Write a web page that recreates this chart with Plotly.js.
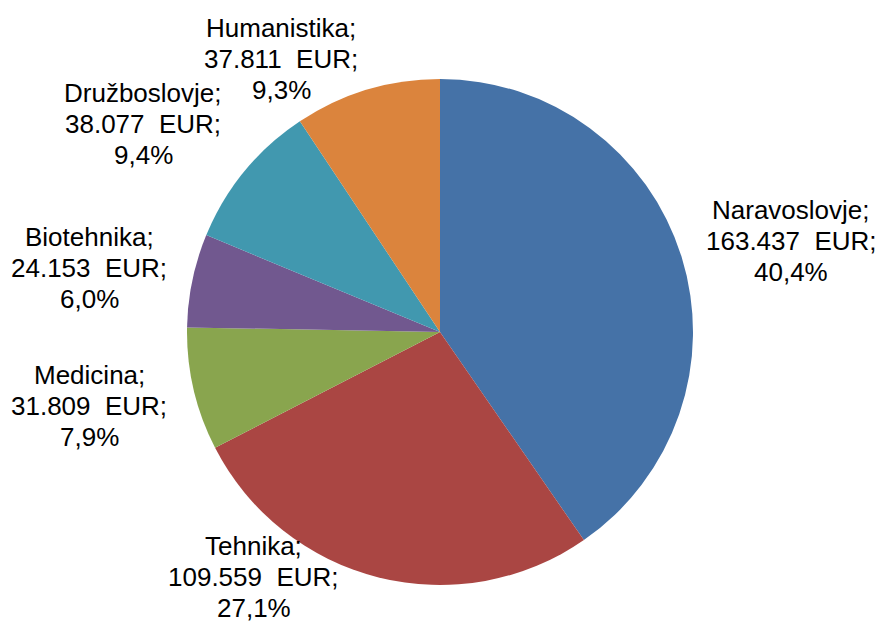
<!DOCTYPE html>
<html>
<head>
<meta charset="utf-8">
<script src="https://cdn.plot.ly/plotly-3.0.1.min.js"></script>
<style>html,body{margin:0;padding:0;background:#fff;}#chart{width:883px;height:621px;}</style>
</head>
<body>
<div id="chart"></div>
<script>
// Data
var categories = ["Naravoslovje", "Tehnika", "Medicina", "Biotehnika", "Družboslovje", "Humanistika"];
var values = [163437, 109559, 31809, 24153, 38077, 37811];
var currency = "EUR";

// Styles
var colors = ["#4572A7", "#AA4643", "#89A54E", "#71588F", "#4198AF", "#DB843D"];
// label placement (pixel centers of first line) - layout only
var labelPos = [[791, 210], [254, 545.5], [89, 375], [89, 237.5], [143, 92.5], [281, 28.5]];
var lineGap = 31;
var W = 883, H = 621;

var total = values.reduce(function(a, b){ return a + b; }, 0);
function fmtNum(v){ return String(v).replace(/\B(?=(\d{3})+(?!\d))/g, "."); }
function fmtPct(v){ return (v / total * 100).toFixed(1).replace(".", ",") + "%"; }

var annotations = [];
categories.forEach(function(c, i){
  var lines = [c + ";", fmtNum(values[i]) + "\u00a0\u00a0" + currency + ";", fmtPct(values[i])];
  lines.forEach(function(t, k){
    annotations.push({
      text: t, showarrow: false, xref: "paper", yref: "paper",
      x: labelPos[i][0] / W, y: 1 - (labelPos[i][1] + k * lineGap) / H,
      xanchor: "center", yanchor: "middle", valign: "middle",
      height: 30, borderpad: 0,
      font: {family: "Liberation Sans, Arial, sans-serif", size: 26, color: "#000"}
    });
  });
});

var trace = {
  type: "pie",
  labels: categories,
  values: values,
  sort: false,
  direction: "clockwise",
  rotation: 0,
  marker: {colors: colors, line: {width: 0}},
  textinfo: "none",
  hoverinfo: "none",
  domain: {x: [187 / W, 693 / W], y: [1 - 585 / H, 1 - 79 / H]}
};

var layout = {
  width: W, height: H,
  margin: {l: 0, r: 0, t: 0, b: 0},
  showlegend: false,
  paper_bgcolor: "#fff",
  annotations: annotations
};

Plotly.newPlot("chart", [trace], layout, {staticPlot: true, displayModeBar: false});
</script>
</body>
</html>
